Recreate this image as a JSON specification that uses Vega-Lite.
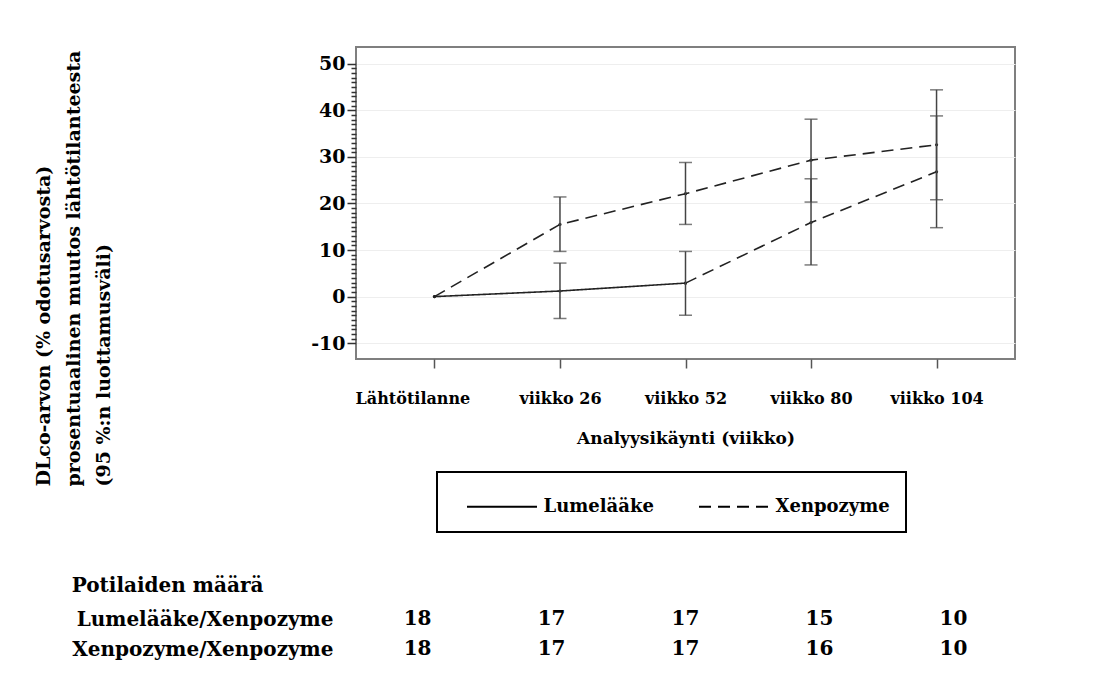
{
  "$schema": "https://vega.github.io/schema/vega-lite/v6.json",
  "background": "white",
  "padding": {"left": 33, "top": 46, "right": 5, "bottom": 5},
  "autosize": {"type": "pad"},
  "config": {
    "font": "DejaVu Serif",
    "view": {"stroke": "#7f7f7f", "strokeWidth": 2},
    "axis": {
      "labelFont": "DejaVu Serif", "labelFontWeight": "bold", "labelColor": "black",
      "titleFont": "DejaVu Serif", "titleFontWeight": "bold", "titleColor": "black"
    },
    "title": {"font": "DejaVu Serif", "fontWeight": "bold", "color": "black"}
  },
  "datasets": {
    "points": [
      {"ryhma": "Lumelääke/Xenpozyme", "kaynti": "viikko 26", "ka": 1.2, "ala": -4.7, "yla": 7.2},
      {"ryhma": "Lumelääke/Xenpozyme", "kaynti": "viikko 52", "ka": 2.9, "ala": -4.0, "yla": 9.7},
      {"ryhma": "Lumelääke/Xenpozyme", "kaynti": "viikko 80", "ka": 15.9, "ala": 6.8, "yla": 25.3},
      {"ryhma": "Lumelääke/Xenpozyme", "kaynti": "viikko 104", "ka": 26.8, "ala": 14.8, "yla": 38.8},
      {"ryhma": "Xenpozyme/Xenpozyme", "kaynti": "viikko 26", "ka": 15.5, "ala": 9.7, "yla": 21.4},
      {"ryhma": "Xenpozyme/Xenpozyme", "kaynti": "viikko 52", "ka": 22.1, "ala": 15.5, "yla": 28.8},
      {"ryhma": "Xenpozyme/Xenpozyme", "kaynti": "viikko 80", "ka": 29.3, "ala": 20.3, "yla": 38.1},
      {"ryhma": "Xenpozyme/Xenpozyme", "kaynti": "viikko 104", "ka": 32.6, "ala": 20.8, "yla": 44.4}
    ],
    "lines": [
      {"osa": "P1", "hoito": "Lumelääke", "kaynti": "Lähtötilanne", "ka": 0},
      {"osa": "P1", "hoito": "Lumelääke", "kaynti": "viikko 26", "ka": 1.2},
      {"osa": "P1", "hoito": "Lumelääke", "kaynti": "viikko 52", "ka": 2.9},
      {"osa": "P2", "hoito": "Xenpozyme", "kaynti": "viikko 52", "ka": 2.9},
      {"osa": "P2", "hoito": "Xenpozyme", "kaynti": "viikko 80", "ka": 15.9},
      {"osa": "P2", "hoito": "Xenpozyme", "kaynti": "viikko 104", "ka": 26.8},
      {"osa": "X", "hoito": "Xenpozyme", "kaynti": "Lähtötilanne", "ka": 0},
      {"osa": "X", "hoito": "Xenpozyme", "kaynti": "viikko 26", "ka": 15.5},
      {"osa": "X", "hoito": "Xenpozyme", "kaynti": "viikko 52", "ka": 22.1},
      {"osa": "X", "hoito": "Xenpozyme", "kaynti": "viikko 80", "ka": 29.3},
      {"osa": "X", "hoito": "Xenpozyme", "kaynti": "viikko 104", "ka": 32.6}
    ],
    "counts": [
      {"ryhma": "Lumelääke/Xenpozyme", "kaynti": "Lähtötilanne", "n": 18},
      {"ryhma": "Lumelääke/Xenpozyme", "kaynti": "viikko 26", "n": 17},
      {"ryhma": "Lumelääke/Xenpozyme", "kaynti": "viikko 52", "n": 17},
      {"ryhma": "Lumelääke/Xenpozyme", "kaynti": "viikko 80", "n": 15},
      {"ryhma": "Lumelääke/Xenpozyme", "kaynti": "viikko 104", "n": 10},
      {"ryhma": "Xenpozyme/Xenpozyme", "kaynti": "Lähtötilanne", "n": 18},
      {"ryhma": "Xenpozyme/Xenpozyme", "kaynti": "viikko 26", "n": 17},
      {"ryhma": "Xenpozyme/Xenpozyme", "kaynti": "viikko 52", "n": 17},
      {"ryhma": "Xenpozyme/Xenpozyme", "kaynti": "viikko 80", "n": 16},
      {"ryhma": "Xenpozyme/Xenpozyme", "kaynti": "viikko 104", "n": 10}
    ]
  },
  "vconcat": [
    {
      "width": 659,
      "height": 312,
      "encoding": {
        "x": {
          "field": "kaynti", "type": "ordinal",
          "scale": {"type": "point", "domain": ["Lähtötilanne", "viikko 26", "viikko 52", "viikko 80", "viikko 104"], "padding": 0.625},
          "axis": {
            "title": "Analyysikäynti (viikko)", "titleFontSize": 17, "titlePadding": 24,
            "labelFontSize": 16, "labelAngle": 0, "labelPadding": 22,
            "labelOffset": {"condition": {"test": "datum.value === 'Lähtötilanne'", "value": -22}, "value": 0},
            "domain": false, "ticks": true, "tickSize": 9, "tickColor": "#555555", "tickWidth": 1.5,
            "grid": false
          }
        }
      },
      "layer": [
        {
          "data": {"name": "lines"},
          "mark": {"type": "line", "color": "#222222", "strokeWidth": 1.6},
          "encoding": {
            "y": {
              "field": "ka", "type": "quantitative",
              "scale": {"domain": [-13.4, 53.6], "nice": false, "zero": false},
              "axis": {
                "values": [-10,-9,-8,-7,-6,-5,-4,-3,-2,-1,0,1,2,3,4,5,6,7,8,9,10,11,12,13,14,15,16,17,18,19,20,21,22,23,24,25,26,27,28,29,30,31,32,33,34,35,36,37,38,39,40,41,42,43,44,45,46,47,48,49,50],
                "tickCount": 200,
                "labelExpr": "datum.value % 10 === 0 ? '' + datum.value : ''",
                "labelOverlap": false,
                "labelFontSize": 19, "labelPadding": 2,
                "domain": false,
                "ticks": true,
                "tickColor": "#333333", "tickWidth": 1.5, "tickSize": 9,
                "tickDash": {"condition": {"test": "datum.value % 10 === 0", "value": [1, 0]}, "value": [5, 20]},
                "grid": true,
                "gridColor": "#eeeeee",
                "gridOpacity": {"condition": {"test": "datum.value % 10 === 0", "value": 1}, "value": 0},
                "title": ["DLco-arvon (% odotusarvosta)", "prosentuaalinen muutos lähtötilanteesta", "(95 %:n luottamusväli)"],
                "titleFontSize": 19, "titleLineHeight": 30,
                "titleAngle": -90, "titleAlign": "left", "titleBaseline": "top",
                "titleX": -322, "titleY": 439
              }
            },
            "strokeDash": {
              "field": "hoito", "type": "nominal",
              "scale": {"domain": ["Lumelääke", "Xenpozyme"], "range": [[1, 0], [12, 7]]},
              "legend": {
                "orient": "none", "legendX": 81, "legendY": 425,
                "direction": "horizontal", "title": null,
                "strokeColor": "black", "fillColor": "white", "padding": 16,
                "symbolType": "M-2,0H2", "symbolSize": 1225, "symbolOffset": 30.5,
                "symbolStrokeWidth": 2, "symbolStrokeColor": "black",
                "labelFont": "DejaVu Serif", "labelFontWeight": "bold", "labelFontSize": 18, "labelColor": "black",
                "labelOffset": 23, "columnPadding": 31, "labelLimit": 300,
                "encode": {"legend": {"update": {"strokeWidth": {"value": 2}}}}
              }
            },
            "detail": {"field": "osa"}
          }
        },
        {
          "data": {"name": "lines"},
          "mark": {"type": "point", "filled": true, "color": "#222222", "size": 10, "opacity": 1},
          "encoding": {"y": {"field": "ka", "type": "quantitative"}}
        },
        {
          "data": {"name": "points"},
          "mark": {"type": "rule", "color": "#444444", "strokeWidth": 1.5},
          "encoding": {"y": {"field": "ala", "type": "quantitative"}, "y2": {"field": "yla"}}
        },
        {
          "data": {"name": "points"},
          "mark": {"type": "tick", "color": "#444444", "size": 13, "thickness": 1.5, "orient": "horizontal"},
          "encoding": {"y": {"field": "ala", "type": "quantitative"}}
        },
        {
          "data": {"name": "points"},
          "mark": {"type": "tick", "color": "#444444", "size": 13, "thickness": 1.5, "orient": "horizontal"},
          "encoding": {"y": {"field": "yla", "type": "quantitative"}}
        }
      ]
    },
    {
      "data": {"name": "counts"},
      "width": 659,
      "height": 60,
      "view": {"stroke": null},
      "title": {"text": "Potilaiden määrä", "anchor": "start", "frame": "bounds", "fontSize": 20, "offset": 8},
      "mark": {"type": "text", "font": "DejaVu Serif", "fontWeight": "bold", "fontSize": 20, "color": "black"},
      "encoding": {
        "x": {
          "field": "kaynti", "type": "ordinal",
          "scale": {"type": "point", "domain": ["Lähtötilanne", "viikko 26", "viikko 52", "viikko 80", "viikko 104"], "padding": 0.46},
          "axis": null
        },
        "y": {
          "field": "ryhma", "type": "nominal",
          "sort": ["Lumelääke/Xenpozyme", "Xenpozyme/Xenpozyme"],
          "axis": {"title": null, "domain": false, "ticks": false, "labelPadding": 23, "labelFontSize": 20, "labelLimit": 400, "grid": false}
        },
        "text": {"field": "n", "type": "quantitative"}
      }
    }
  ],
  "spacing": 42,
  "resolve": {"scale": {"x": "independent", "y": "independent"}, "legend": {"strokeDash": "independent"}}
}
